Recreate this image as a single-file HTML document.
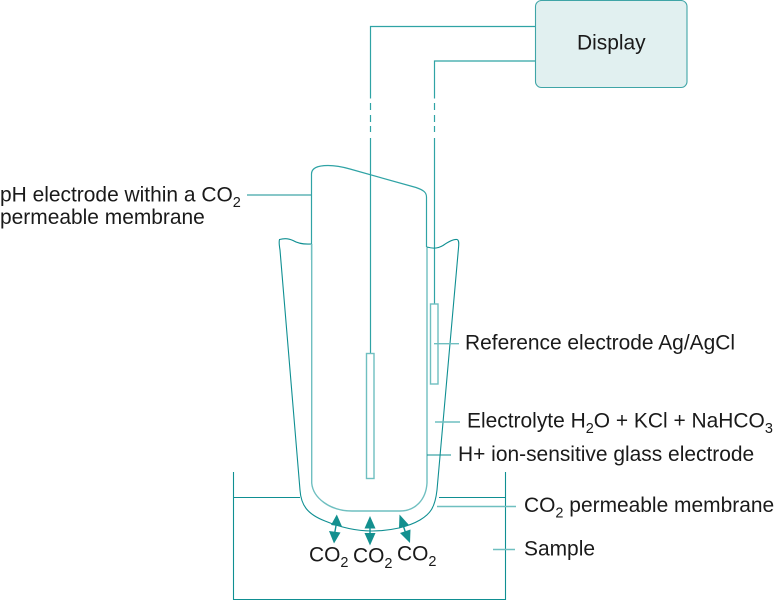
<!DOCTYPE html>
<html><head><meta charset="utf-8"><style>
html,body{margin:0;padding:0;background:#fff}
svg{display:block}
text{font-family:"Liberation Sans",sans-serif;font-size:20.95px;fill:#1a1a1a}
.s{font-size:14.5px}
.l{fill:none;stroke:#2fa3a5;stroke-width:1.2}
.m{fill:none;stroke:#6fbfc0;stroke-width:1.4}
.d{fill:none;stroke:#0f8f92;stroke-width:1.1}
.a{fill:#13908f}
</style></head><body>
<svg width="774" height="600" viewBox="0 0 774 600" xmlns="http://www.w3.org/2000/svg">
<rect x="535.5" y="0.5" width="151.5" height="87" rx="6" fill="#e1f0f0" stroke="#3fa5a7" stroke-width="1.1"/>
<path class="l" d="M535 26.5H370.5V98.5M370.5 103V110M370.5 115V122M370.5 126V132M370.5 138V354"/>
<path class="l" d="M535 61H434.5V98.5M434.5 103V110M434.5 115V122M434.5 126V132M434.5 138V304"/>
<path class="l" d="M311.5 260V174C311.5 168 318 165.5 328 165.5C337 165.5 343 167 350 169L416 187.5C423 190 426.5 192 426.5 197V247"/>
<path class="m" d="M311.7 244V483C313 498 330 511 352 511H400C415 511 426 500 427 483V247"/>
<rect class="m" x="366.5" y="353.5" width="7.5" height="125"/>
<rect class="m" x="430.5" y="304" width="7.5" height="80"/>
<path class="d" d="M311 244C303 244.5 298 243.5 293 240.5C288 238 283 238.5 279.5 239.5C279 241 279 244 280 250L300 490C301 505 307 514 325 521C342 528 358 531 372 531C390 531 408 527 420 520C430 514 435 508 437 490L458.5 248C459 243 459 240 457 239.5C453 239 448 242 443 245.5C437 249 432 248.5 427 247"/>
<path class="d" d="M233.5 472V599.5H505.5V472"/>
<path class="d" d="M233 497.5H300M439 497.5H505"/>
<path class="m" d="M437 506.5H516M493 549.5H515"/>
<path class="d" d="M247 195H311"/>
<path class="m" d="M434 343.7H459M435 422H460"/>
<path class="d" d="M427 455H451"/>
<path class="d" d="M337 520L334 537M370 522V538M402 522L407 537" style="stroke-width:1.4"/>
<polygon class="a" points="336.8,514.5 342,526.5 331,525"/>
<polygon class="a" points="334,543.5 329,531 340.5,532.5"/>
<polygon class="a" points="370,516 375.500,528.5 364.500,528.5"/>
<polygon class="a" points="370,545.5 364.500,533 375.500,533"/>
<polygon class="a" points="399.5,514.5 409,525 399,528.5"/>
<polygon class="a" points="410,543 400,533 410.500,529.500"/>
<text x="577" y="49.5">Display</text>
<text x="0" y="201.5">pH electrode within a CO<tspan class="s" dy="5.5">2</tspan></text>
<text x="0" y="224">permeable membrane</text>
<text x="465" y="349.5">Reference electrode Ag/AgCl</text>
<text x="467" y="427.5">Electrolyte H<tspan class="s" dy="5.5">2</tspan><tspan dy="-5.5">O + KCl + NaHCO</tspan><tspan class="s" dy="5.5">3</tspan></text>
<text x="458" y="461">H+ ion-sensitive glass electrode</text>
<text x="524" y="512">CO<tspan class="s" dy="5.5">2</tspan><tspan dy="-5.5"> permeable membrane</tspan></text>
<text x="524" y="555.5">Sample</text>
<text x="309" y="561.5">CO<tspan class="s" dy="5.5">2</tspan></text>
<text x="353" y="562.5">CO<tspan class="s" dy="5.5">2</tspan></text>
<text x="397" y="560.5">CO<tspan class="s" dy="5.5">2</tspan></text>
</svg>
</body></html>
